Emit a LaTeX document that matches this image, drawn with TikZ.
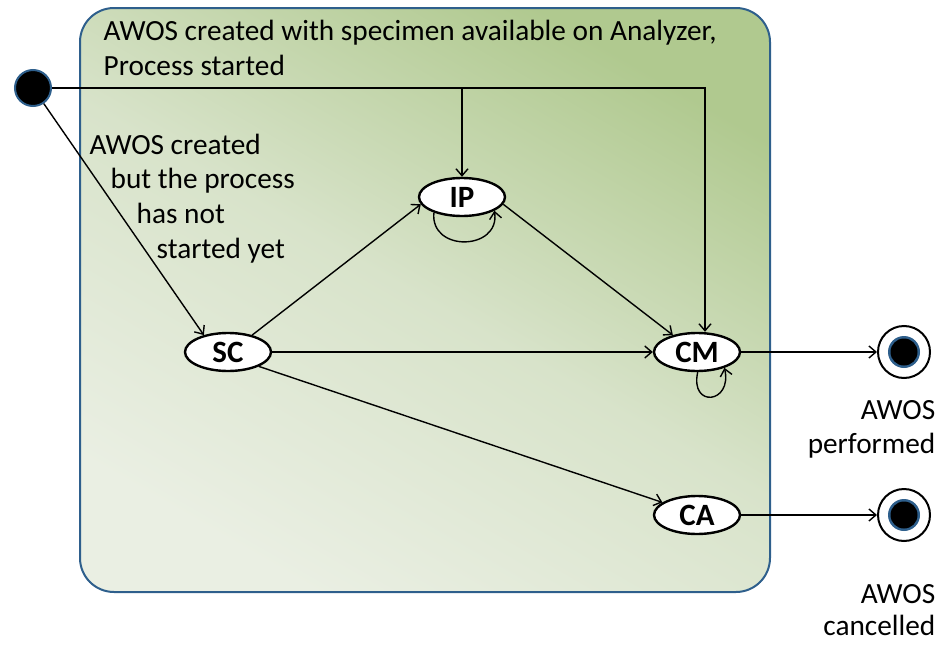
\documentclass[tikz,border=0pt]{standalone}
\usepackage{fontspec}
\setmainfont{Carlito}
\usetikzlibrary{arrows.meta,shapes.geometric}

\definecolor{regionblue}{RGB}{46,95,140}
\definecolor{regionlight}{RGB}{234,239,227}
\definecolor{regionmid}{RGB}{216,227,202}
\definecolor{regiondark}{RGB}{176,201,143}

\tikzset{
  >={Straight Barb[length=7pt,width=12pt]},
  every path/.style={line width=1.4pt},
  region/.style={draw=regionblue, line width=2pt, rounded corners=34pt,
    top color=regiondark, bottom color=regionlight, middle color=regionmid,
    shading angle=-30},
  state/.style={draw, ellipse, line width=2.4pt, fill=white, inner sep=0pt,
    minimum width=86pt, minimum height=38pt,
    font=\fontsize{31}{34}\selectfont\bfseries},
  initdot/.style={circle, draw=regionblue, line width=2pt, fill=black,
    minimum size=36pt, inner sep=0pt},
  finalring/.style={circle, draw, line width=2pt, fill=white,
    minimum size=52pt, inner sep=0pt,
    path picture={
      \fill[regionblue] (path picture bounding box.center) circle (16pt);
      \fill[black] (path picture bounding box.center) circle (13.5pt);}},
  note/.style={align=left, inner sep=0pt, font=\fontsize{29.3}{35}\selectfont},
}

\begin{document}
\begin{tikzpicture}[x=1pt,y=-1pt]
  \useasboundingbox (0,0) rectangle (940,645);

  % composite state
  \node (region) at (425,300) [region, minimum width=690pt, minimum height=584pt] {};
  \node (regiontitle) at (103,19) [note, anchor=north west]
    {AWOS created with specimen available on Analyzer,\\Process started};

  \node (init) at (33,88)   [initdot] {};
  \node (IP)   at (462,197) [state] {IP};
  \node (SC)   at (228,352) [state] {SC};
  \node (CM)   at (697,352) [state] {CM};
  \node (CA)   at (697,515) [state] {CA};
  \node (done) at (904,352) [finalring] {};
  \node (off)  at (904,515) [finalring] {};

  \node (pending) at (89,133) [note, anchor=north west, font=\fontsize{29.3}{34.7}\selectfont]
    {AWOS created\\\hspace*{21pt}but the process\\\hspace*{47pt}has not\\\hspace*{67pt}started yet};
  \node (donelabel) at (936,400) [note, anchor=north east, align=right,
    font=\fontsize{29.3}{34}\selectfont] {AWOS\\performed};
  \node (offlabel)  at (936,584) [note, anchor=north east, align=right,
    font=\fontsize{29.3}{32}\selectfont] {AWOS\\cancelled};

  \draw[->] (init.east) -| ([xshift=8pt]CM.north);
  \draw[->] (init.east -| IP.north) -- (IP.north);
  \draw[->] (init) -- (SC.145);
  \draw[->] (SC.35) -- (IP.190);
  \draw[->] (IP.-10) -- (CM.145);
  \draw[->] (SC.east) -- (CM.west);
  \draw[->] (SC.-25) -- (CA.160);
  \draw[->] (IP.209) .. controls +(-4,40) and +(6,40) .. (IP.337);
  \draw[->] (CM.272) .. controls +(-8,36) and +(8,36) .. (CM.330);
  \draw[->] (CM.east) -- (done);
  \draw[->] (CA.east) -- (off);
\end{tikzpicture}
\end{document}
